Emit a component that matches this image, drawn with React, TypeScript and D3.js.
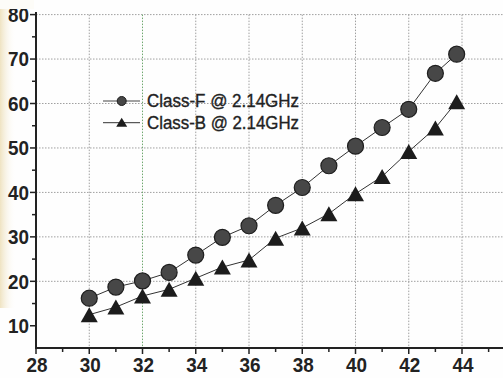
import React from "react";
import * as d3 from "d3";

// Output power (dBm) vs. drain efficiency / PAE (%)
const inputPower = [30, 31, 32, 33, 34, 35, 36, 37, 38, 39, 40, 41, 42, 43, 43.8];
const classF = [16.2, 18.7, 20.1, 22.0, 25.9, 29.9, 32.5, 37.1, 41.1, 46.0, 50.4, 54.6, 58.7, 66.8, 71.1];
const classB = [12.5, 14.2, 16.7, 18.2, 20.7, 23.2, 24.8, 29.7, 32.0, 35.2, 39.7, 43.6, 49.2, 54.5, 60.4];

const seriesNames = ["Class-F @ 2.14GHz", "Class-B @ 2.14GHz"];

const xMajorTicks = [28, 30, 32, 34, 36, 38, 40, 42, 44];
const xMinorTicks = [29, 31, 33, 35, 37, 39, 41, 43, 45];
const xGridTicks = [30, 32, 34, 36, 38, 40, 42, 44];
const yMajorTicks = [10, 20, 30, 40, 50, 60, 70, 80];
const yMinorTicks = [15, 25, 35, 45, 55, 65, 75];
const yGridTicks = [20, 30, 40, 50, 60, 70, 80];

const W = 503;
const H = 378;

export default function App() {
  const x = d3.scaleLinear().domain([28, 46]).range([36, 515.25]);
  const y = d3.scaleLinear().domain([5, 80]).range([348, 14.6]);

  const line = d3
    .line<number>()
    .x((_, i) => x(inputPower[i]))
    .y((d) => y(d));

  const axisY = y(5);
  const axisX = x(28);

  const tri = (cx: number, cy: number, w: number, h: number) =>
    `M${cx - w / 2},${cy + h / 2}L${cx},${cy - h / 2}L${cx + w / 2},${cy + h / 2}Z`;

  return (
    <svg
      width={W}
      height={H}
      viewBox={`0 0 ${W} ${H}`}
      style={{ position: "absolute", left: 0, top: 0, background: "#fff" }}
    >
      <defs>
        <linearGradient id="edge" x1="0" x2="1" y1="0" y2="0">
          <stop offset="0" stopColor="#efe3c2" />
          <stop offset="1" stopColor="#ffffff" stopOpacity="0" />
        </linearGradient>
      </defs>
      <rect x={0} y={0} width={W} height={H} fill="#fefefe" />
      <rect x={0} y={8} width={16} height={300} fill="url(#edge)" />

      {/* grid */}
      <g strokeWidth={1} strokeDasharray="1.5,1.5">
        {yGridTicks.map((t) => (
          <line key={"gy" + t} x1={axisX} x2={W} y1={y(t)} y2={y(t)} stroke="#a0a0a0" />
        ))}
        {xGridTicks.map((t) => (
          <line
            key={"gx" + t}
            x1={x(t)}
            x2={x(t)}
            y1={y(80)}
            y2={axisY}
            stroke={t === 32 ? "#6fa86f" : "#a0a0a0"}
          />
        ))}
      </g>

      {/* series lines */}
      <path d={line(classF) ?? ""} fill="none" stroke="#333" strokeWidth={1} />
      <path d={line(classB) ?? ""} fill="none" stroke="#333" strokeWidth={1} />

      {/* markers */}
      {classF.map((v, i) => (
        <circle
          key={"f" + i}
          cx={x(inputPower[i])}
          cy={y(v)}
          r={8}
          fill="#474747"
          stroke="#1e1e1e"
          strokeWidth={1.2}
        />
      ))}
      {classB.map((v, i) => (
        <path key={"b" + i} d={tri(x(inputPower[i]), y(v), 17, 15)} fill="#1c1c1c" />
      ))}

      {/* axes */}
      <g stroke="#222" fill="none">
        <line x1={axisX} x2={axisX} y1={12} y2={axisY + 1} strokeWidth={2} />
        <line x1={axisX - 1} x2={W} y1={axisY} y2={axisY} strokeWidth={2} />
        {yMajorTicks.map((t) => (
          <line key={"ym" + t} x1={axisX - 6} x2={axisX} y1={y(t)} y2={y(t)} strokeWidth={1.5} />
        ))}
        {yMinorTicks.map((t) => (
          <line key={"yn" + t} x1={axisX - 4} x2={axisX} y1={y(t)} y2={y(t)} strokeWidth={1.5} />
        ))}
        {xMajorTicks.map((t) => (
          <line key={"xm" + t} x1={x(t)} x2={x(t)} y1={axisY} y2={axisY + 6} strokeWidth={1.5} />
        ))}
        {xMinorTicks.map((t) => (
          <line key={"xn" + t} x1={x(t)} x2={x(t)} y1={axisY} y2={axisY + 4} strokeWidth={1.5} />
        ))}
      </g>

      {/* tick labels */}
      <g fontFamily="Liberation Sans, Arial, sans-serif" fontWeight="bold" fill="#222">
        {yMajorTicks.map((t) => (
          <text
            key={"yl" + t}
            x={29}
            y={y(t)}
            dy="0.36em"
            textAnchor="end"
            fontSize={20}
            textLength={21}
            lengthAdjust="spacingAndGlyphs"
          >
            {t}
          </text>
        ))}
        {xMajorTicks.map((t) => (
          <text
            key={"xl" + t}
            x={x(t) + 1}
            y={372}
            textAnchor="middle"
            fontSize={21}
            textLength={21}
            lengthAdjust="spacingAndGlyphs"
          >
            {t}
          </text>
        ))}
      </g>

      {/* paper edge above the plot */}
      <rect x={0} y={0} width={34} height={9} fill="#fdfcf8" />

      {/* legend */}
      <g>
        <line x1={103} x2={140} y1={101} y2={101} stroke="#444" strokeWidth={1} />
        <circle cx={121.7} cy={101} r={4.5} fill="#474747" stroke="#1e1e1e" />
        <line x1={103} x2={140} y1={122.7} y2={122.7} stroke="#333" strokeWidth={1} />
        <path d={tri(121.7, 122.2, 11, 9)} fill="#1c1c1c" />
        <g
          fontFamily="Liberation Sans, Arial, sans-serif"
          fontSize={17.5}
          fill="#222"
          stroke="#222"
          strokeWidth={0.35}
        >
          <text x={147} y={101} dy="0.36em" textLength={152} lengthAdjust="spacingAndGlyphs">
            {seriesNames[0]}
          </text>
          <text x={147} y={122.7} dy="0.36em" textLength={152} lengthAdjust="spacingAndGlyphs">
            {seriesNames[1]}
          </text>
        </g>
      </g>
    </svg>
  );
}
